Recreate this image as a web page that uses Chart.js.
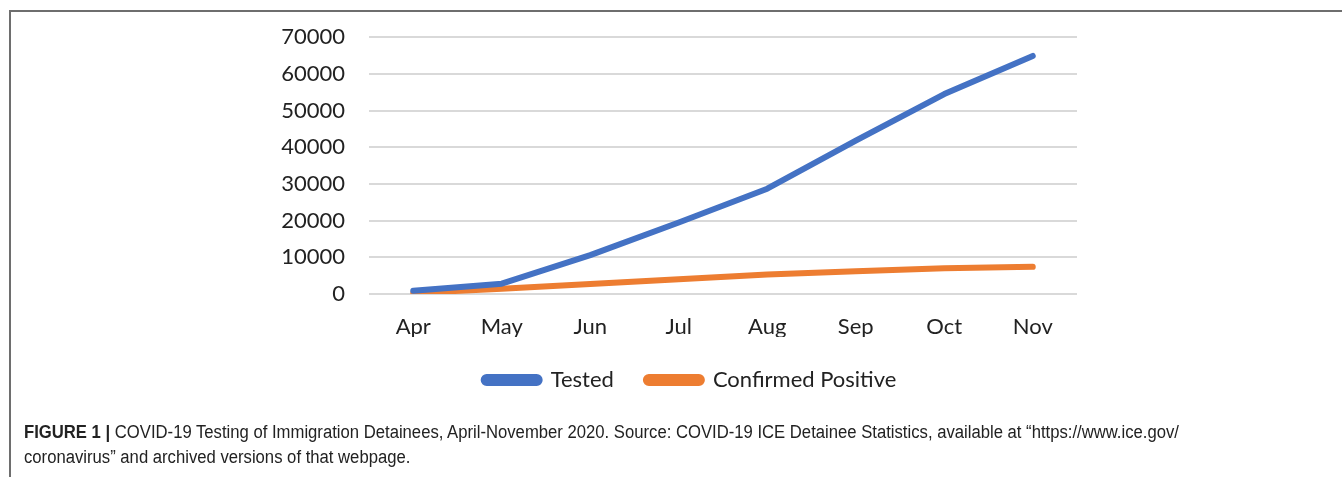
<!DOCTYPE html>
<html>
<head>
<meta charset="utf-8">
<script src="https://cdn.jsdelivr.net/npm/chart.js@4.4.0/dist/chart.umd.min.js"></script>
<style>
    body { margin: 0; background: #fff; width: 1342px; height: 477px; overflow: hidden; position: relative; }
    .frame { position: absolute; left: 9px; top: 10px; right: -5px; bottom: -5px; border-top: 2px solid #6e6e6e; border-left: 2px solid #6e6e6e; }
    .chart-box { position: absolute; left: 0; top: 0; width: 1342px; height: 430px; }
    .caption { position: absolute; left: 24px; top: 420px; width: 1400px; font-family: "Liberation Sans Narrow", "Arial Narrow", "Liberation Sans", sans-serif; font-size: 18px; line-height: 25px; color: #222; transform: scaleX(0.926); transform-origin: left top; }
    .caption b { font-weight: bold; }
</style>
</head>
<body>
<div class="frame"></div>
<div class="chart-box"><canvas id="covidChart" width="1342" height="430"></canvas></div>
<div class="caption"><b>FIGURE 1 |</b> COVID-19 Testing of Immigration Detainees, April-November 2020. Source: COVID-19 ICE Detainee Statistics, available at “https://www.ice.gov/<br>coronavirus” and archived versions of that webpage.</div>
<script>
const months = ["Apr", "May", "Jun", "Jul", "Aug", "Sep", "Oct", "Nov"];
const tested = [900, 2800, 10600, 19500, 28700, 41800, 54500, 64900];
const confirmedPositive = [300, 1400, 2700, 4000, 5300, 6200, 7000, 7400];
const yTicks = [0, 10000, 20000, 30000, 40000, 50000, 60000, 70000];

const font = { family: "Lato, 'Noto Sans', sans-serif", size: 22 };
const textColor = "#222";

// the legend in the figure sits a bit right of the page centre
const shiftLegend = {
    id: "shiftLegend",
    afterLayout(chart) {
        chart.legend.left = 303;
    }
};

new Chart(document.getElementById("covidChart"), {
    type: "line",
    data: {
        labels: months,
        datasets: [{
            label: "Tested",
            data: tested,
            borderColor: "#4472c4",
            backgroundColor: "#4472c4",
            borderWidth: 6,
            borderCapStyle: "round",
            borderJoinStyle: "round",
            pointRadius: 0,
            tension: 0
        }, {
            label: "Confirmed Positive",
            data: confirmedPositive,
            borderColor: "#ed7d31",
            backgroundColor: "#ed7d31",
            borderWidth: 6,
            borderCapStyle: "round",
            borderJoinStyle: "round",
            pointRadius: 0,
            tension: 0
        }]
    },
    plugins: [shiftLegend],
    options: {
        responsive: false,
        animation: false,
        layout: { padding: { top: 36, right: 265, bottom: 29, left: 0 } },
        plugins: {
            tooltip: { enabled: false },
            legend: {
                position: "bottom",
                labels: {
                    boxWidth: 56,
                    boxHeight: 6,
                    padding: 32,
                    useBorderRadius: true,
                    borderRadius: 3,
                    color: textColor,
                    font: font
                }
            }
        },
        scales: {
            x: {
                offset: true,
                afterFit: scale => { scale.height = 43; },
                grid: { display: false },
                border: { display: false },
                ticks: { color: textColor, font: font, padding: 12, maxRotation: 0 }
            },
            y: {
                min: 0,
                max: 70000,
                afterFit: scale => { scale.width = 369; },
                afterBuildTicks: scale => { scale.ticks = yTicks.map(v => ({ value: v })); },
                grid: { color: "#d9d9d9", lineWidth: 2, drawTicks: false },
                border: { display: false },
                ticks: { color: textColor, font: font, padding: 24, callback: v => String(v) }
            }
        }
    }
});
</script>
</body>
</html>
